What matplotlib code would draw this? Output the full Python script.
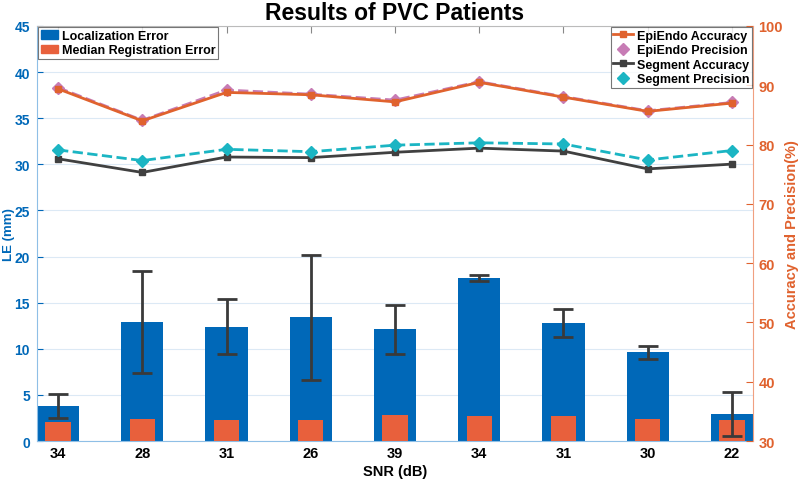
import numpy as np
import matplotlib.pyplot as plt
from matplotlib.patches import Patch
from matplotlib.lines import Line2D

snr_labels = ['34', '28', '31', '26', '39', '34', '31', '30', '22']
loc_error = [3.8, 12.9, 12.4, 13.4, 12.1, 17.7, 12.8, 9.6, 2.9]
loc_error_std = [1.3, 5.5, 2.95, 6.8, 2.7, 0.3, 1.5, 0.7, 2.4]
median_reg_error = [2.1, 2.4, 2.3, 2.3, 2.8, 2.7, 2.7, 2.4, 2.3]

epiendo_acc = [89.4, 84.0, 88.8, 88.4, 87.2, 90.5, 88.0, 85.6, 87.0]
epiendo_prec = [89.6, 84.1, 89.2, 88.5, 87.5, 90.6, 88.1, 85.7, 87.1]
segment_acc = [77.6, 75.3, 77.9, 77.8, 78.7, 79.4, 78.9, 75.9, 76.7]
segment_prec = [79.1, 77.3, 79.2, 78.8, 79.9, 80.3, 80.1, 77.4, 79.0]

blue = '#0068B8'
orange = '#E8603C'
axis_orange = '#E0622E'
pink = '#C77CB5'
gray = '#404040'
cyan = '#1BB5C3'

plt.rcParams['font.family'] = ['Liberation Sans', 'DejaVu Sans']
plt.rcParams['font.weight'] = 'bold'

fig = plt.figure(figsize=(8, 4.81), dpi=100)
ax = fig.add_axes([37/800, 1 - 442/481, (753-37)/800, (442-27)/481])
x = np.arange(1, len(snr_labels) + 1)

ax.bar(x, loc_error, width=0.5, color=blue, zorder=2)
ax.bar(x, median_reg_error, width=0.3, color=orange, zorder=3)
ax.errorbar(x, loc_error, yerr=loc_error_std, fmt='none', ecolor='#3a3a3a',
            elinewidth=2, capsize=7, capthick=2, zorder=4)

ax.set_xlim(0.75, 9.25)
ax.set_ylim(0, 45)
ax.set_yticks(np.arange(0, 46, 5))
ax.set_xticks(x)
ax.set_xticklabels(snr_labels)
ax.yaxis.grid(True, color='#dce9f5', linewidth=0.8, zorder=0)
ax.set_axisbelow(True)
ax.tick_params(axis='y', colors=blue, labelsize=10, direction='in', length=4, pad=5)
ax.tick_params(axis='x', labelsize=10.5, direction='in', length=5, top=True,
               colors='#888888', labelcolor='black')
ax.spines['left'].set_color('#8fbfe6')
ax.spines['bottom'].set_color('#8fbfe6')
ax.spines['top'].set_color('#bbbbbb')
ax.spines['right'].set_visible(False)
ax.set_ylabel('LE (mm)', color=blue, fontsize=9.5, fontweight='bold')
ax.yaxis.set_label_coords(-0.031, 0.5)
ax.set_xlabel('SNR (dB)', fontsize=10.5, fontweight='bold', labelpad=3)
ax.set_title('Results of PVC Patients', fontsize=16.5, fontweight='bold', pad=5)

ax2 = ax.twinx()
ax2.plot(x, epiendo_acc, '-s', color=axis_orange, lw=2, ms=4, zorder=3)
ax2.plot(x, epiendo_prec, '--D', color=pink, lw=2, ms=6, zorder=2)
ax2.plot(x, segment_acc, '-s', color=gray, lw=2, ms=5, zorder=3)
ax2.plot(x, segment_prec, '--D', color=cyan, lw=2, ms=6, zorder=3)
ax2.set_ylim(30, 100)
ax2.set_yticks(np.arange(30, 101, 10))
ax2.tick_params(axis='y', colors=axis_orange, labelsize=10.5, direction='in', length=5, pad=4)
for s in ['left', 'top', 'bottom']:
    ax2.spines[s].set_visible(False)
ax2.spines['right'].set_color('#f0a080')
ax2.set_ylabel('Accuracy and Precision(%)', color=axis_orange, fontsize=10.5,
               fontweight='bold')
ax2.yaxis.set_label_coords(1.044, 0.5)

h1 = [Patch(color=blue), Patch(color=orange)]
leg1 = ax.legend(h1, ['Localization Error', 'Median Registration Error'], loc='upper left',
                 fontsize=9, frameon=True, fancybox=False, edgecolor='#555555',
                 borderpad=0.2, handlelength=1.4, handletextpad=0.3, labelspacing=0.2,
                 borderaxespad=0.1)
leg1.get_frame().set_linewidth(0.8)

h2 = [Line2D([], [], color=axis_orange, marker='s', lw=2, ms=4),
      Line2D([], [], color=pink, marker='D', lw=0, ms=6),
      Line2D([], [], color=gray, marker='s', lw=2, ms=4),
      Line2D([], [], color=cyan, marker='D', lw=0, ms=6)]
leg2 = ax2.legend(h2, ['EpiEndo Accuracy', 'EpiEndo Precision', 'Segment Accuracy',
                       'Segment Precision'], loc='upper right', fontsize=9, frameon=True,
                  fancybox=False, edgecolor='#555555', borderpad=0.2, handlelength=1.6,
                  handletextpad=0.3, labelspacing=0.2, borderaxespad=0.1)
leg2.get_frame().set_linewidth(0.8)

fig.savefig('out.png', dpi=100)
